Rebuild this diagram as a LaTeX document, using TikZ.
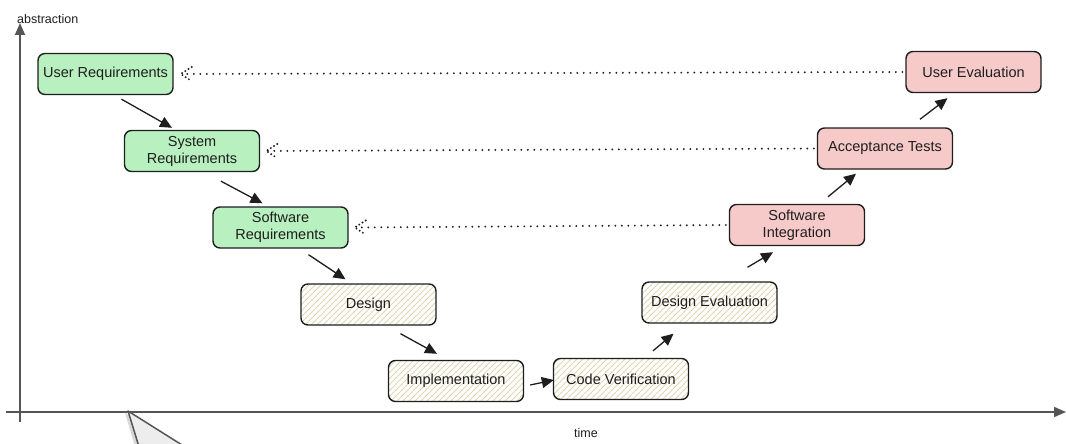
\documentclass[tikz,border=0pt]{standalone}
\usepackage{fontspec}
\setmainfont{Liberation Sans}
\usetikzlibrary{arrows.meta,calc,patterns}
\definecolor{greenfill}{HTML}{B8F0C0}
\definecolor{redfill}{HTML}{F7CACA}
\definecolor{hatchcol}{HTML}{DDD8B6}
\definecolor{strokecol}{HTML}{1E1E1E}
\definecolor{axiscol}{HTML}{555555}
\pgfdeclarepatternformonly{myhatch}{\pgfqpoint{-1pt}{-1pt}}{\pgfqpoint{7pt}{7pt}}{\pgfqpoint{6pt}{6pt}}{%
  \pgfsetlinewidth{0.8pt}%
  \pgfpathmoveto{\pgfqpoint{-0.5pt}{-0.5pt}}%
  \pgfpathlineto{\pgfqpoint{6.5pt}{6.5pt}}%
  \pgfusepath{stroke}}
\tikzset{
  box/.style={draw=strokecol, line width=1.4pt, rounded corners=7pt,
    minimum width=135pt, minimum height=41pt, inner sep=2pt, align=center,
    font=\fontsize{14.5}{17}\selectfont, text=strokecol},
  reqbox/.style={box, fill=greenfill},
  testbox/.style={box, fill=redfill},
  hatchbox/.style={box, preaction={fill=white}, pattern=myhatch, pattern color=hatchcol},
  arr/.style={draw=strokecol, line width=1.3pt, -{Triangle[length=12pt,width=11pt]}},
  dotline/.style={draw=strokecol, line width=2.1pt, line cap=round, dash pattern=on 0pt off 6.5pt},
  axis/.style={draw=axiscol, line width=1.8pt, -{Triangle[length=12pt,width=10pt]}},
  lbl/.style={font=\fontsize{12.5}{14}\selectfont, text=strokecol, inner sep=0pt},
}
\begin{document}
\begin{tikzpicture}[x=1pt,y=-1pt]
\useasboundingbox (0,0) rectangle (1066,444);
\clip (0,0) rectangle (1066,444);
% axes
\coordinate (yb) at (20,422);
\coordinate (yt) at (20,23);
\coordinate (xl) at (6,412);
\coordinate (xr) at (1066,412);
\draw[axis] (yb) -- (yt);
\draw[axis] (xl) -- (xr);
\node[lbl, anchor=west] (abs) at (17,19) {abstraction};
\node[lbl] (time) at (586,433) {time};
% pointer triangle
\fill[black!30, opacity=0.5] (125,413) -- (136,450) -- (186,450) -- cycle;
\draw[axiscol, line width=1.5pt, fill=black!7, line join=round] (128,411) -- (140,450) -- (190,450) -- cycle;
% nodes
\node[reqbox] (ur) at (105.5,74) {User Requirements};
\node[reqbox] (sr) at (192,151) {System\\Requirements};
\node[reqbox] (swr) at (280.5,227.5) {Software\\Requirements};
\node[hatchbox] (des) at (368.5,304.5) {Design};
\node[hatchbox] (imp) at (456,381) {Implementation};
\node[hatchbox] (cv) at (621,379) {Code Verification};
\node[hatchbox] (de) at (709.5,302.5) {Design Evaluation};
\node[testbox] (si) at (797,225) {Software\\Integration};
\node[testbox] (at) at (885,148.5) {Acceptance Tests};
\node[testbox] (ue) at (973.5,72) {User Evaluation};
% solid arrows
\draw[arr] ($(ur.south)+(16,4)$) -- ($(sr.north)+(-20,-2)$);
\draw[arr] ($(sr.south)+(29,9)$) -- ($(swr.north)+(-18,-3)$);
\draw[arr] ($(swr.south)+(28,6)$) -- ($(des.north)+(-23,-4)$);
\draw[arr] ($(des.south)+(32,8)$) -- ($(imp.north)+(-19,-6)$);
\draw[arr] ($(imp.east)+(6,4)$) -- ($(cv.west)+(1,1)$);
\draw[arr] ($(cv.north)+(32,-7)$) -- ($(de.south)+(-36,10)$);
\draw[arr] ($(de.north)+(38,-14)$) -- ($(si.south)+(-24,6)$);
\draw[arr] ($(si.north)+(31,-7)$) -- ($(at.south)+(-29,4)$);
\draw[arr] ($(at.north)+(35,-8)$) -- ($(ue.south)+(-26,5)$);
% dotted arrows (right to left)
\draw[dotline] ($(ue.west)+(-3,0)$) -- ($(ur.east)+(8,0)$);
\draw[dotline, dash pattern=on 0pt off 3.8pt] ($(ur.east)+(18,-7)$) -- ($(ur.east)+(7,0)$) -- ($(ur.east)+(18,7)$);
\draw[dotline] ($(at.west)+(-3,0)$) -- ($(sr.east)+(7,0)$);
\draw[dotline, dash pattern=on 0pt off 3.8pt] ($(sr.east)+(17,-7)$) -- ($(sr.east)+(6,0)$) -- ($(sr.east)+(17,7)$);
\draw[dotline] ($(si.west)+(-3,0)$) -- ($(swr.east)+(7,0)$);
\draw[dotline, dash pattern=on 0pt off 3.8pt] ($(swr.east)+(17,-7)$) -- ($(swr.east)+(6,0)$) -- ($(swr.east)+(17,7)$);
\end{tikzpicture}
\end{document}
